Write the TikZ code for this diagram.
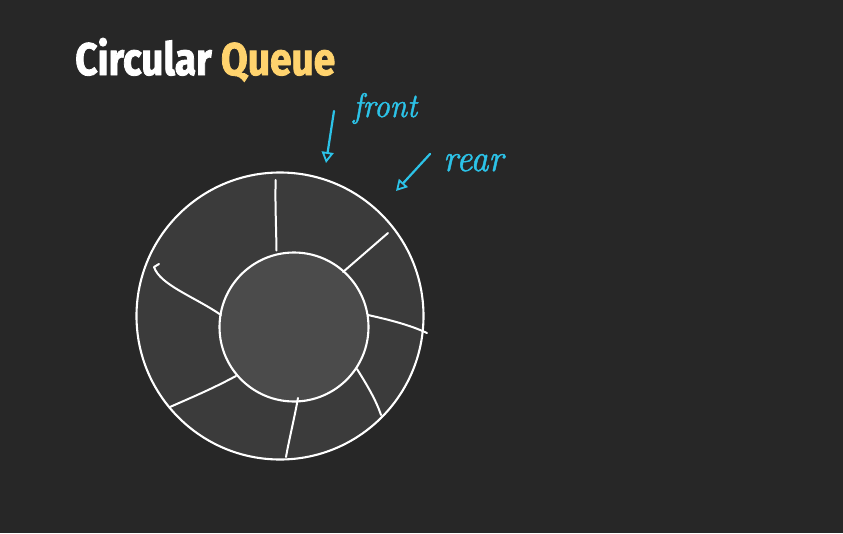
\documentclass[tikz,border=0pt]{standalone}
\usepackage{fontspec}
\usetikzlibrary{arrows.meta}
\newfontfamily\titlefont{Fira Sans}[BoldFont={Fira Sans Bold}, BoldFeatures={FakeBold=2}]
\newfontfamily\handfont{Latin Modern Roman}[ItalicFeatures={FakeBold=1.2}]
\definecolor{board}{HTML}{272727}
\definecolor{ringfill}{HTML}{3B3B3B}
\definecolor{hubfill}{HTML}{4B4B4B}
\definecolor{chalkcyan}{HTML}{2CC3E8}
\definecolor{titleyellow}{HTML}{FFD36E}
\tikzset{
  chalk/.style={draw=white, line width=2.1pt, line cap=round, line join=round},
  divider/.style={white, line width=2pt, line cap=round, line join=round},
  pointer/.style={chalkcyan, line width=2.2pt, line cap=round,
    -{Triangle[open, length=11pt, width=12pt, line width=1.8pt]}},
  hand/.style={chalkcyan, anchor=base west, inner sep=0pt}
}
\begin{document}
\begin{tikzpicture}[x=1pt,y=-1pt]
\fill[board] (0,0) rectangle (843,533);
\useasboundingbox (0,0) rectangle (843,533);
% title
\node[anchor=base west, inner sep=0pt] (title) at (75,75)
  {\resizebox{260pt}{37pt}{\titlefont\bfseries\color{white}Circular \color{titleyellow}Queue}};
% rings
\node[circle, chalk, fill=ringfill, minimum size=287pt, inner sep=0pt] (outer) at (280,316) {};
\node[circle, chalk, fill=hubfill, minimum size=149pt, inner sep=0pt] (inner) at (294,327) {};
% divider end points
\coordinate (i1) at (276.5,250.5); \coordinate (o1) at (275.7,180);
\coordinate (i2) at (343,272);     \coordinate (o2) at (388,233);
\coordinate (i3) at (368,315);     \coordinate (o3) at (427,333);
\coordinate (i4) at (357,369);     \coordinate (o4) at (381,415);
\coordinate (i5) at (298,398);     \coordinate (o5) at (286,457);
\coordinate (i6) at (236,376);     \coordinate (o6) at (170,407);
\coordinate (i7) at (221,315);     \coordinate (o7) at (154,267);
\draw[divider] (i1) .. controls (276,220) and (275,200) .. (o1);
\draw[divider] (i2) -- (o2);
\draw[divider] (i3) .. controls (390,320) and (410,325) .. (o3);
\draw[divider] (i4) .. controls (367,385) and (376,400) .. (o4);
\draw[divider] (i5) .. controls (294,420) and (289,440) .. (o5);
\draw[divider] (i6) .. controls (210,390) and (190,398) .. (o6);
\draw[divider] (i7) .. controls (195,297) and (160,285) .. (o7) -- (159,264);
% pointers
\coordinate (fronttail) at (334,111); \coordinate (fronthead) at (326,163);
\coordinate (reartail) at (430,154);  \coordinate (rearhead) at (396,191);
\draw[pointer] (fronttail) -- (fronthead);
\draw[pointer] (reartail) -- (rearhead);
\node[hand] (front) at (353,117) {\resizebox{64pt}{24pt}{\handfont\itshape front}};
\node[hand] (rear) at (443,171) {\resizebox{60pt}{17pt}{\handfont\itshape rear}};
\end{tikzpicture}
\end{document}
